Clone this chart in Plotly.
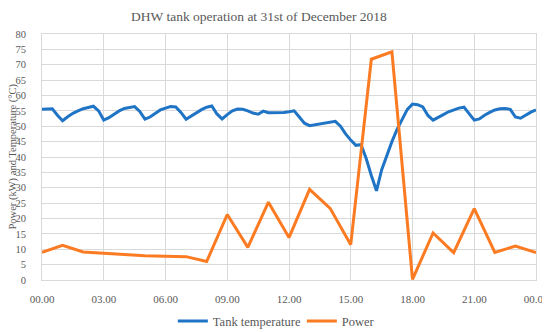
import plotly.graph_objects as go

# Hourly power (kW)
power_hours = list(range(25))
power_values = [9.0, 11.3, 9.1, 8.8, 8.3, 7.9, 7.7, 7.6, 6.0, 21.3, 10.6, 25.3, 13.8,
                29.5, 23.3, 11.5, 71.8, 74.2, 0.2, 15.3, 8.9, 23.2, 9.0, 11.0, 8.9]

# Tank temperature at 15-minute steps (°C)
temp_hours = [i * 0.25 for i in range(97)]
temp_values = [
    55.5, 55.6, 55.7, 53.6, 51.8, 53.1, 54.2, 55.0, 55.7, 56.1, 56.5, 55.0,
    52.0, 52.8, 54.0, 55.0, 55.8, 56.2, 56.4, 54.8, 52.3, 53.0, 54.3, 55.3,
    55.9, 56.4, 56.3, 54.5, 52.3, 53.3, 54.5, 55.4, 56.2, 56.6, 54.0, 52.4,
    53.8, 55.0, 55.6, 55.5, 55.0, 54.3, 53.9, 54.9, 54.4, 54.4, 54.4, 54.5,
    54.7, 55.0, 53.0, 51.0, 50.2, 50.5, 50.8, 51.0, 51.3, 51.6, 50.0, 47.5,
    45.5, 43.8, 44.0, 39.5, 34.0, 29.0, 35.8, 40.5, 45.0, 49.0, 52.5, 55.5,
    57.2, 57.0, 56.3, 53.5, 52.0, 52.8, 53.8, 54.7, 55.4, 55.9, 56.2, 54.0,
    52.0, 52.4, 53.6, 54.5, 55.3, 55.7, 55.8, 55.5, 53.0, 52.6, 53.6, 54.6,
    55.3, 55.8,
]

tick_vals = [0, 3, 6, 9, 12, 15, 18, 21, 24]
tick_text = ["00.00", "03.00", "06.00", "09.00", "12.00", "15.00", "18.00", "21.00", "00.00"]

font_fam = "Palatino Linotype, Book Antiqua, Liberation Serif, serif"
gray = "#595959"

W, H = 542, 324
L, R, T, B = 34, 14, 26, 52
plot_w = W - L - R

fig = go.Figure()
fig.add_trace(go.Scatter(x=temp_hours, y=temp_values, mode="lines", name="Tank temperature",
                         line=dict(color="#1f74c6", width=3)))
fig.add_trace(go.Scatter(x=power_hours, y=power_values, mode="lines", name="Power",
                         line=dict(color="#fb7b22", width=3)))

fig.add_annotation(text="Power (kW) and Temperature (°C)", xref="paper", yref="paper",
                   x=-(L - 4.5) / plot_w, y=0.5, xanchor="center", yanchor="middle",
                   textangle=-90, showarrow=False, font=dict(size=10.5, color=gray))

fig.update_layout(
    width=W, height=H,
    margin=dict(l=L, r=R, t=T, b=B, autoexpand=False),
    paper_bgcolor="white", plot_bgcolor="white",
    font=dict(family=font_fam, color=gray, size=11),
    title=dict(text="DHW tank operation at 31st of December 2018", x=0.463, xanchor="center",
               y=0.975, yanchor="middle",
               font=dict(size=13.5, color=gray, family=font_fam)),
    showlegend=True,
    legend=dict(orientation="h", x=0.526, xanchor="center", y=-0.168, yanchor="middle",
                font=dict(size=12.5, color=gray), entrywidth=84, entrywidthmode="pixels",
                bgcolor="rgba(0,0,0,0)"),
    xaxis=dict(range=[0, 24], tickvals=tick_vals, ticktext=tick_text, showgrid=True,
               gridcolor="#d9d9d9", gridwidth=1, showline=True, linecolor="#d9d9d9",
               zeroline=False, ticks="", tickfont=dict(size=11, color=gray), mirror=True,
               automargin=False, ticklabelstandoff=9),
    yaxis=dict(range=[0, 80], dtick=5, showgrid=True, gridcolor="#d9d9d9", gridwidth=1,
               showline=True, linecolor="#d9d9d9", zeroline=False, ticks="",
               tickfont=dict(size=10.5, color=gray), mirror=True, automargin=False,
               ticklabelstandoff=13),
)

fig.write_html("out.html")
